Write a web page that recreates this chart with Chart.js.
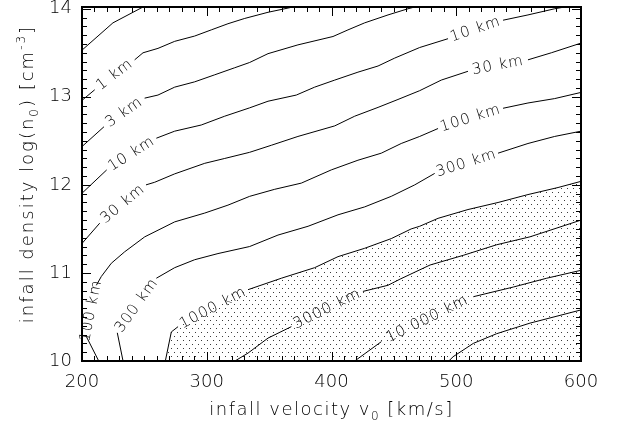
<!DOCTYPE html>
<html><head><meta charset="utf-8">
<script src="https://cdn.jsdelivr.net/npm/chart.js@4.4.1/dist/chart.umd.min.js"></script>
<style>html,body{margin:0;padding:0;background:#fff}canvas{display:block}</style>
</head><body>
<canvas id="c" width="621" height="423"></canvas>
<script>
// ---- axes ----
const xTicks = [200, 300, 400, 500, 600];
const yTicks = [10, 11, 12, 13, 14];
const xMin = 200, xMax = 600, yMin = 10, yMax = 14.02;
const xTitle = ['infall velocity v', '0', ' [km/s]'];
const yTitle = ['infall density log(n', '0', ') [cm', '-3', ']'];

// ---- contour lines: [velocity, log density]; null = gap where a label sits ----
const c03Pts = [[200,13.53],[224.8,13.84],[248.9,14.02]];
const c03Labels = [];
const c1Pts = [[200,12.96],[210.2,13.08],null,[242.2,13.42],[248.9,13.50],[260.9,13.55],[274.3,13.63],[290.3,13.69],[303.6,13.76],[317.0,13.83],[330.4,13.89],[349.1,13.96],[369.1,14.02]];
const c1Labels = ['1 km'];
const c3Pts = [[200,12.435],[217.6,12.66],null,[250.2,12.985],[260.9,13.02],[274.3,13.11],[290.3,13.17],[306.4,13.25],[322.4,13.33],[334.4,13.39],[349.1,13.49],[373.1,13.59],[401.2,13.685],[413.2,13.76],[426.6,13.84],[445.3,13.93],[461.3,14.00],[466.7,14.02]];
const c3Labels = ['3 km'];
const c10Pts = [[200,11.905],[219.8,12.17],null,[259.6,12.53],[274.3,12.61],[295.6,12.68],[314.4,12.78],[334.4,12.875],[349.1,12.95],[371.8,13.02],[386.5,13.11],[402.6,13.19],[421.2,13.28],[437.3,13.35],[450.7,13.44],[470.7,13.56],[493.4,13.66],null,[537.5,13.87],[557.5,13.93],[578.9,14.00],[586.9,14.02]];
const c10Labels = ['10 km', '10 km'];
const c30Pts = [[200,11.335],[214.2,11.565],null,[251.3,12.0],[258.3,12.03],[274.3,12.125],[298.4,12.245],[314.4,12.30],[334.4,12.37],[351.8,12.45],[373.1,12.55],[402.6,12.67],[418.6,12.78],[437.3,12.88],[453.3,12.97],[470.7,13.07],[488.0,13.19],[509.4,13.29],null,[557.5,13.42],[576.2,13.50],[600,13.61]];
const c30Labels = ['30 km', '30 km'];
const c100Pts = [[213.4,10.0],[203.4,10.28],null,[211.5,10.86],[215.5,10.96],[223.5,11.11],[234.2,11.24],[250.3,11.41],[274.3,11.58],[298.4,11.68],[317.0,11.77],[334.4,11.87],[354.5,11.95],[375.8,12.02],[399.8,12.17],[421.2,12.28],[439.9,12.36],[455.9,12.47],[470.7,12.55],[485.4,12.64],null,[537.5,12.87],[557.5,12.93],[578.9,12.98],[600,13.05]];
const c100Labels = ['100 km', '100 km'];
const c300Pts = [[232.9,10.0],[228.3,10.32],null,[259.6,10.94],[274.3,11.06],[290.3,11.15],[309.0,11.22],[334.4,11.30],[357.1,11.43],[381.2,11.53],[405.2,11.66],[426.6,11.75],[447.9,11.87],[466.7,12.0],[482.7,12.13],null,[533.5,12.36],[557.5,12.47],[578.9,12.55],[600,12.61]];
const c300Labels = ['300 km', '300 km'];
const c1000Pts = [[266.8,10.0],[271.6,10.33],[277.0,10.39],null,[333.1,10.81],[359.8,10.94],[386.5,11.06],[405.2,11.185],[426.6,11.28],[447.9,11.39],[463.9,11.50],[470.7,11.53],[485.4,11.62],[509.4,11.72],[533.5,11.80],[557.5,11.89],[581.6,11.97],[600,12.04]];
const c1000Labels = ['1000 km'];
const c3000Pts = [[322.6,10.0],[333.1,10.09],[349.1,10.26],[367.8,10.39],null,[425.2,10.79],[445.3,10.86],[455,10.93],[479,11.09],[505.6,11.20],[532.4,11.32],[559.1,11.41],[600,11.60]];
const c3000Labels = ['3000 km'];
const c10000Pts = [[418.6,10.0],[440,10.22],null,[513.7,10.73],[545.8,10.84],[572.5,10.94],[600,11.03]];
const c10000Labels = ['10 000 km'];
const c30000Pts = [[494,10.0],[497.6,10.05],[513.7,10.20],[532.4,10.31],[559.1,10.43],[600,10.58]];
const c30000Labels = [];

const FONT = '"DejaVu Sans", "Liberation Sans", sans-serif';
const WEIGHT = 200;

const contours = [
  {pts: c03Pts, labels: c03Labels}, {pts: c1Pts, labels: c1Labels}, {pts: c3Pts, labels: c3Labels},
  {pts: c10Pts, labels: c10Labels}, {pts: c30Pts, labels: c30Labels}, {pts: c100Pts, labels: c100Labels},
  {pts: c300Pts, labels: c300Labels}, {pts: c1000Pts, labels: c1000Labels}, {pts: c3000Pts, labels: c3000Labels},
  {pts: c10000Pts, labels: c10000Labels}, {pts: c30000Pts, labels: c30000Labels}
];

function toPts(a) {
  const out = []; let px = null;
  a.forEach(p => { if (p) { out.push({x: p[0], y: p[1]}); px = p[0]; } else out.push({x: px, y: null}); });
  return out;
}

const canvas = document.getElementById('c');
const ctx0 = canvas.getContext('2d');
const pc = document.createElement('canvas'); pc.width = 6; pc.height = 8;
const pg = pc.getContext('2d'); pg.fillStyle = '#3a3a3a'; pg.fillRect(0,0,1,1); pg.fillRect(3,4,1,1);
const dots = ctx0.createPattern(pc, 'repeat');

const datasets = [{
  data: c1000Pts.filter(p => p).map(p => ({x: p[0], y: p[1]})),
  showLine: true, fill: 'start', backgroundColor: dots, borderWidth: 0, borderColor: 'rgba(0,0,0,0)', pointRadius: 0, order: 10
}];
contours.forEach(c => datasets.push({
  data: toPts(c.pts), showLine: true, fill: false, borderColor: '#000', borderWidth: 1,
  pointRadius: 0, spanGaps: false, order: 0
}));

function line(ctx, x1, y1, x2, y2) { ctx.beginPath(); ctx.moveTo(x1, y1); ctx.lineTo(x2, y2); ctx.stroke(); }

function drawParts(ctx, parts, cx, cy, size, spacing) {
  const kinds = parts.length === 3 ? ['n','sub','n'] : ['n','sub','n','sup','n'];
  const fonts = kinds.map(k => WEIGHT + ' ' + (k === 'n' ? size : Math.round(size * 0.68)) + 'px ' + FONT);
  ctx.letterSpacing = spacing + 'px';
  let total = 0; const widths = [];
  parts.forEach((t, i) => { ctx.font = fonts[i]; const w = ctx.measureText(t).width; widths.push(w); total += w; });
  let xx = cx - total / 2;
  parts.forEach((t, i) => {
    ctx.font = fonts[i];
    const dy = kinds[i] === 'sub' ? size * 0.28 : (kinds[i] === 'sup' ? -size * 0.45 : 0);
    ctx.fillText(t, xx, cy + dy);
    xx += widths[i];
  });
}

const decor = {
  id: 'decor',
  afterDatasetsDraw(chart) {
    const {ctx, scales: {x, y}} = chart;
    ctx.save();
    ctx.fillStyle = '#000';
    ctx.font = WEIGHT + ' 15px ' + FONT;
    ctx.textAlign = 'center'; ctx.textBaseline = 'middle';
    ctx.letterSpacing = '1px';
    contours.forEach(c => {
      let li = 0;
      c.pts.forEach((p, i) => {
        if (p !== null) return;
        const a = c.pts[i - 1], b = c.pts[i + 1];
        const ax = x.getPixelForValue(a[0]), ay = y.getPixelForValue(a[1]);
        const bx = x.getPixelForValue(b[0]), by = y.getPixelForValue(b[1]);
        const ang = Math.atan2(by - ay, bx - ax);
        ctx.save(); ctx.translate((ax + bx) / 2, (ay + by) / 2); ctx.rotate(ang);
        ctx.fillText(c.labels[li++], 0, 0); ctx.restore();
      });
    });
    ctx.restore();
  },
  afterDraw(chart) {
    const {ctx, chartArea: a, scales: {x, y}} = chart;
    ctx.save();
    ctx.strokeStyle = '#000'; ctx.lineWidth = 1;
    for (let k = 0; k <= 40; k++) {
      const v = xMin + k * 10;
      const px = Math.round(x.getPixelForValue(v)) + 0.5;
      const L = (k % 10 === 0) ? 9 : 5;
      line(ctx, px, a.bottom, px, a.bottom - L);
      line(ctx, px, a.top, px, a.top + L);
    }
    for (let k = 0; k <= 40; k++) {
      const v = yMin + k / 10;
      const py = Math.round(y.getPixelForValue(v)) + 0.5;
      const L = (k % 10 === 0) ? 9 : 5;
      line(ctx, a.left, py, a.left + L, py);
      line(ctx, a.right, py, a.right - L, py);
    }
    ctx.lineWidth = 2;
    ctx.strokeRect(a.left, a.top, a.right - a.left, a.bottom - a.top);
    ctx.fillStyle = '#000'; ctx.textAlign = 'left'; ctx.textBaseline = 'alphabetic';
    drawParts(ctx, xTitle, (a.left + a.right) / 2, 415, 18, 1.5);
    ctx.save(); ctx.translate(33, 174); ctx.rotate(-Math.PI / 2);
    drawParts(ctx, yTitle, 0, 0, 18, 2);
    ctx.restore();
    ctx.restore();
  }
};

new Chart(canvas, {
  type: 'scatter',
  data: {datasets},
  options: {
    responsive: false, animation: false, devicePixelRatio: 1,
    layout: {padding: {top: 7, right: 40, left: 0, bottom: 0}},
    plugins: {legend: {display: false}, tooltip: {enabled: false}},
    scales: {
      x: {
        type: 'linear', min: xMin, max: xMax,
        afterBuildTicks: s => { s.ticks = xTicks.map(v => ({value: v})); },
        afterFit: s => { s.height = 62; s.paddingLeft = 0; s.paddingRight = 0; s.paddingTop = 0; s.paddingBottom = 0; },
        ticks: {color: '#000', padding: 11, maxRotation: 0, autoSkip: false, font: {family: FONT, size: 18, weight: WEIGHT}},
        grid: {display: false, drawTicks: false}, border: {display: false}
      },
      y: {
        type: 'linear', min: yMin, max: yMax,
        afterBuildTicks: s => { s.ticks = yTicks.map(v => ({value: v})); },
        afterFit: s => { s.width = 82; s.paddingLeft = 0; s.paddingRight = 0; s.paddingTop = 0; s.paddingBottom = 0; },
        ticks: {color: '#000', padding: 10, autoSkip: false, font: {family: FONT, size: 18, weight: WEIGHT}},
        grid: {display: false, drawTicks: false}, border: {display: false}
      }
    }
  },
  plugins: [decor]
});
</script>
</body></html>
